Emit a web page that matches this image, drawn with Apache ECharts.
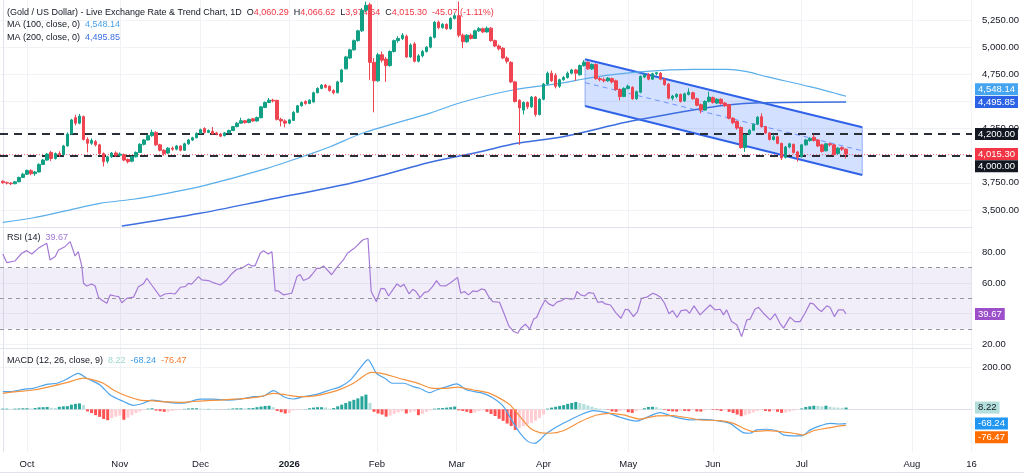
<!DOCTYPE html>
<html>
<head>
<meta charset="utf-8">
<script src="https://cdn.jsdelivr.net/npm/echarts@6/dist/echarts.min.js"></script>
<style>
html,body{margin:0;padding:0;background:#fff;}
#main{width:1024px;height:476px;}
</style>
</head>
<body>
<div id="main"></div>
<script>
// 日K [open, close, low, high]
var candles = [
  [3765,3752,3742,3772],[3752,3748,3735,3762],[3748,3742,3730,3756],[3742,3760,3738,3768],[3760,3800,3755,3808],
  [3800,3830,3795,3842],[3830,3865,3822,3872],[3862,3835,3820,3875],[3835,3850,3815,3860],[3850,3920,3845,3930],
  [3920,3960,3915,3968],[3960,4015,3955,4025],[4030,3975,3950,4045],[3975,4020,3965,4030],[4020,4010,3990,4040],
  [4010,4090,4005,4100],[4090,4200,4085,4215],[4200,4330,4195,4340],[4350,4300,4280,4378],[4300,4365,4290,4385],
  [4360,4150,4140,4370],[4150,4115,4030,4170],[4115,4140,4100,4160],[4130,4100,4085,4145],[4100,4020,4010,4110],
  [4020,3945,3900,4030],[3950,3990,3930,4000],[3990,4025,3980,4035],[4025,4005,3990,4040],[4005,4015,3995,4030],
  [4010,3960,3950,4020],[3965,3945,3930,3975],[3950,3990,3940,3998],[3990,4030,3985,4040],[4030,4105,4025,4115],
  [4105,4145,4095,4155],[4145,4185,4140,4195],[4185,4215,4175,4240],[4215,4100,4090,4225],[4100,4050,4040,4110],
  [4050,4020,4000,4060],[4025,4070,4015,4080],[4070,4060,4045,4085],[4060,4090,4050,4100],[4090,4050,4040,4095],
  [4050,4110,4045,4120],[4110,4145,4100,4155],[4145,4165,4135,4175],[4165,4205,4160,4215],[4205,4240,4200,4250],
  [4250,4215,4205,4262],[4215,4232,4208,4242],[4225,4200,4195,4265],[4210,4198,4188,4220],[4200,4180,4172,4210],
  [4185,4210,4178,4218],[4210,4232,4205,4240],[4232,4268,4228,4275],[4268,4300,4262,4310],[4300,4322,4295,4350],
  [4322,4305,4295,4330],[4305,4335,4300,4342],[4340,4320,4312,4348],[4320,4352,4315,4360],[4350,4450,4345,4458],
  [4445,4490,4438,4500],[4490,4512,4485,4532],[4512,4505,4490,4525],[4510,4335,4325,4515],[4335,4320,4270,4350],
  [4320,4300,4262,4335],[4300,4330,4290,4338],[4325,4400,4320,4410],[4400,4460,4395,4468],[4460,4490,4452,4500],
  [4500,4480,4470,4510],[4480,4512,4475,4520],[4495,4580,4490,4590],[4580,4620,4575,4630],[4620,4650,4612,4660],
  [4650,4630,4620,4662],[4640,4600,4590,4648],[4600,4580,4565,4612],[4580,4680,4575,4690],[4680,4790,4675,4800],
  [4800,4910,4795,4920],[4900,4975,4890,4985],[4975,5060,4968,5070],[5060,5150,5050,5160],[5150,5340,5140,5360],
  [5340,5385,5320,5420],[5390,4860,4700,5410],[4860,4690,4400,4900],[4690,4930,4680,4945],[4930,4880,4860,4960],
  [4890,4830,4680,4910],[4830,4960,4820,4970],[4960,5060,4950,5070],[5060,5080,5040,5100],[5080,5110,5065,5130],
  [5100,4910,4900,5115],[4910,5020,4900,5035],[5030,4870,4860,5045],[4870,4920,4860,4935],[4920,4960,4905,4975],
  [4960,5000,4950,5010],[5000,5090,4990,5100],[5090,5230,5080,5240],[5230,5180,5165,5245],[5180,5210,5170,5222],
  [5210,5170,5160,5218],[5170,5265,5160,5275],[5265,5290,5255,5310],[5290,5110,5090,5420],[5110,5050,4990,5125],
  [5050,5110,5040,5120],[5110,5080,5070,5125],[5080,5150,5075,5160],[5150,5170,5140,5185],[5170,5140,5130,5180],
  [5140,5175,5135,5190],[5175,5060,5050,5185],[5060,5010,5000,5070],[5010,4985,4970,5025],[4990,4900,4890,5000],
  [4900,4870,4850,4915],[4860,4680,4670,4870],[4680,4500,4490,4690],[4510,4440,4100,4520],[4420,4490,4380,4500],
  [4490,4450,4430,4500],[4450,4540,4440,4550],[4540,4380,4360,4550],[4380,4520,4370,4530],[4520,4660,4510,4670],
  [4660,4760,4650,4775],[4760,4690,4680,4785],[4740,4640,4620,4760],[4640,4700,4625,4710],[4700,4720,4690,4735],
  [4720,4760,4710,4775],[4760,4790,4750,4800],[4790,4760,4690,4800],[4745,4830,4740,4840],[4830,4860,4820,4880],
  [4860,4800,4790,4870],[4800,4840,4790,4850],[4840,4710,4700,4850],[4710,4700,4685,4725],[4700,4690,4675,4720],
  [4690,4715,4680,4725],[4710,4680,4665,4720],[4690,4610,4600,4700],[4610,4545,4510,4620],[4545,4620,4540,4630],
  [4620,4640,4610,4655],[4630,4525,4515,4640],[4525,4590,4515,4600],[4585,4730,4575,4740],[4725,4745,4715,4760],
  [4745,4705,4695,4762],[4705,4755,4700,4765],[4755,4765,4740,4772],[4760,4705,4695,4770],[4705,4655,4645,4715],
  [4660,4530,4520,4668],[4530,4550,4510,4560],[4545,4565,4530,4575],[4565,4500,4490,4572],[4505,4570,4495,4580],
  [4565,4585,4555,4620],[4580,4525,4515,4590],[4525,4465,4455,4535],[4470,4420,4390,4480],[4420,4500,4415,4510],
  [4500,4540,4490,4590],[4535,4490,4480,4545],[4485,4520,4475,4530],[4520,4480,4470,4528],[4485,4460,4450,4495],
  [4470,4345,4335,4478],[4345,4305,4290,4355],[4315,4255,4240,4325],[4260,4075,4065,4270],[4075,4190,4035,4200],
  [4200,4235,4190,4245],[4235,4290,4228,4300],[4290,4355,4282,4365],[4360,4268,4258,4390],[4268,4210,4200,4275],
  [4210,4150,4140,4218],[4150,4175,4140,4195],[4175,4114,4105,4185],[4114,3980,3960,4120],[3985,4080,3975,4090],
  [4080,4110,4070,4120],[4105,4030,4020,4112],[4035,3985,3945,4045],[3990,4100,3985,4108],[4100,4145,4092,4155],
  [4140,4160,4130,4170],[4170,4140,4130,4195],[4145,4090,4080,4152],[4100,4040,4030,4110],[4045,4110,4040,4118],
  [4110,4100,4085,4120],[4100,4010,4000,4108],[4020,4070,4010,4080],[4075,4060.37,4045,4085],[4060.29,4015.30,3974.64,4066.62]
];

// 均线 [bar, value]
var ma100 = [[0,3387],[7.6,3429],[15.8,3494],[24.1,3562],[32.3,3599],[40.7,3654],[48.9,3715],[65.5,3884],[76.1,4015],
  [81.1,4083],[89.3,4209],[105.9,4393],[114,4495],[126.4,4605],[138.1,4667],[146.3,4722],[158.7,4774],[171.1,4796],
  [179.5,4796],[184.4,4774],[189.3,4728],[200,4636],[209,4548.14]];
var ma200 = [[29.5,3352],[48.9,3470],[65.4,3592],[86,3745],[93.5,3815],[105.9,3940],[118.3,4037],[127.4,4114],
  [138.8,4175],[154.7,4310],[171.1,4421],[179.5,4467],[187.7,4488],[209,4495.85]];

// 下降通道
var channelX = [144.3, 213];
var channelUpper = [4888, 4262];
var channelLower = [4458, 3822];
var channelMid = [4673, 4046];
var levels = [4200, 4000];

// RSI(14)
var rsi = [[0,79],[1,73.3],[3,74.4],[4.7,79.5],[5.9,81.2],[7.2,79],[8.8,82.7],[10.1,84.9],[10.9,86],[11.3,87.1],[11.7,75.1],
  [13,77.3],[13.8,81.6],[15.4,83.8],[16.7,87.1],[17.9,77.7],[18.7,80.5],[19.6,70.7],[20,59.8],[20.8,58],[22,59.3],[22.9,58],
  [23.7,50.7],[24.5,48.9],[25.8,46.7],[26.6,52.2],[27.8,51.5],[28.7,51.1],[29.5,47.1],[30.7,49.9],[32.4,50.7],[33.6,57.6],
  [34.8,59.3],[35.7,63.1],[36.9,58.7],[39,51.1],[40.2,52.8],[41.5,53.3],[42.7,52.8],[44,57.2],[45.2,57.6],[46,59.8],
  [46.8,59.3],[48.5,64.2],[49.3,62],[51,61.6],[52.2,60.2],[53.9,58.7],[55.5,62],[56.7,65.9],[58,69],[59.2,69.6],[60.9,72.5],
  [61.7,71.2],[62.5,71.2],[63.8,79.5],[64.6,81.2],[65.8,79],[66.7,80.5],[67.5,54.8],[68.3,54.8],[69.6,52.2],[71.6,53.3],
  [72.9,64.2],[73.7,65.6],[74.5,61.6],[75.8,63.1],[76.6,65.4],[77.8,69.6],[78.6,69.6],[79.5,71.2],[81.5,65.4],[82.8,70.3],
  [84.4,75.1],[85.4,79.5],[87.1,82.7],[89.2,88.2],[89.6,89.3],[90.5,89.3],[91.3,54.4],[92.6,47.8],[93.7,56.5],[94.7,56.1],
  [95.6,51.5],[96.9,56.5],[97.7,59.4],[98.6,57.6],[99.4,59.2],[100.7,52.8],[101.6,55.9],[102.4,54.4],[103.4,50.4],
  [104.5,53.9],[105.4,54.4],[106.5,57.6],[107.5,61.6],[108.4,58.3],[109.7,58.1],[110.8,59.8],[112.7,63.7],[113.5,53.3],
  [114.4,54.4],[115.4,52.2],[116.5,54.8],[117.6,54.4],[118.6,56.1],[119.5,55.5],[120.5,50.7],[121.4,47.8],[123.1,47.4],
  [124.2,40.2],[125.4,31.9],[126.6,28.2],[127.6,27.1],[128.4,30.4],[129.5,33],[130.6,29.8],[131.6,36.5],[132.3,37.4],
  [133.3,43.5],[134.4,48.9],[135.3,46.3],[136.4,45],[137.4,47.6],[138.4,48.3],[139.5,50],[140.8,49.4],[141.7,49.8],
  [142.3,54.4],[143.2,52.2],[144.2,51.5],[145.2,53.7],[146.4,53.3],[147.5,47.2],[148.5,47.8],[149.3,46.3],[150.6,45.6],
  [151.9,40.6],[153.2,36.9],[154.3,42.8],[155.1,42.4],[156.3,38],[157.3,41.3],[158.3,50],[159.6,50.7],[161.1,53.3],
  [162.1,52.2],[163,50.7],[164,46.7],[165.1,39.8],[166,41.9],[167.1,37.4],[168.1,41.9],[169.4,42.4],[170.2,40.2],[171.3,45],
  [172.8,39.1],[175.3,45.6],[176.5,42.4],[177.8,42.8],[178.6,39.1],[179.4,42.4],[180.6,34.7],[181.9,32.6],[183.1,24.9],
  [184.4,35.8],[185.2,36.3],[186.4,42.8],[187.3,44.1],[188.5,40.2],[190.2,35.8],[191.4,39.8],[192.6,33.6],[193.5,30.4],
  [195.1,37.6],[196.3,34.7],[197.6,34.7],[198.8,40.2],[200.1,46.8],[200.9,46.3],[202.1,42.8],[202.9,41.3],[204.2,45],
  [205,44.1],[206.1,38],[207.1,42.4],[208.3,42.4],[209,39.67]];
var rsiBands = [70, 50, 30];

// MACD(12,26,9)
var macd = [[0,84],[1.8,84],[5.1,95],[7.6,100],[10.9,119],[13.4,124],[15.8,143],[18.7,171],[20.8,148],[24.1,116],[26.6,68],
  [29.9,37],[32.4,19],[34.8,29],[36.9,44],[39.8,37],[43.1,29],[45.6,32],[48.9,48],[52.2,48],[55.5,44],[58.8,48],[62.1,60],
  [64.6,63],[67.1,89],[69.6,60],[72,49],[74.5,60],[77.8,71],[81.1,92],[83.7,108],[86.2,140],[88.3,190],[90.5,237],[92.6,171],
  [94.7,148],[96.5,124],[99.4,124],[101.6,108],[103.3,100],[105.8,79],[107.5,92],[110.1,108],[112.5,121],[115,92],[119.1,76],
  [121.6,52],[124.1,13],[126.1,-51],[128.2,-114],[130.2,-154],[131.9,-162],[133.1,-146],[134.8,-114],[137.3,-83],[139.7,-59],
  [143.1,-27],[146.3,-6],[149.7,-16],[153,-38],[157.1,-56],[159.6,-38],[162.9,-16],[166.2,-35],[167.8,-43],[170.7,-51],
  [172.8,-48],[176.9,-54],[180.2,-67],[181.9,-90],[183.5,-111],[185.2,-114],[186.8,-98],[189.3,-95],[191.8,-102],
  [193.5,-122],[195.9,-127],[198,-127],[200.1,-98],[202.5,-79],[205,-67],[207.1,-70],[209,-68.24]];
var signal = [[0,76],[3.4,84],[7.6,92],[11.7,108],[15.8,127],[20,148],[22.4,140],[24.9,124],[27.4,92],[30.7,63],[34,44],
  [37.3,40],[40.6,35],[44,33],[47.2,37],[50.5,41],[53.9,44],[57.2,48],[60.5,52],[63.8,60],[67.1,76],[70.4,68],[73.7,60],
  [77,63],[80.3,76],[83.6,95],[86.9,124],[90.2,168],[91.3,176],[93.9,171],[98.2,148],[102.4,127],[106.7,100],[110.1,100],
  [112.7,106],[116.6,92],[120.7,76],[123.2,52],[125.7,21],[128.2,-35],[130.7,-90],[133.1,-111],[135.6,-114],[138.9,-102],
  [143.1,-59],[147.2,-27],[150.5,-19],[153.8,-27],[157.9,-47],[162.1,-31],[166.2,-30],[167.8,-35],[170.7,-43],[172.8,-51],
  [177.8,-54],[181.1,-67],[183.5,-90],[186,-106],[189.3,-102],[192.6,-106],[195.9,-114],[198.4,-122],[200.9,-102],
  [204.2,-90],[207.5,-79],[209,-76.47]];
var hist = [
  3,3,2,3,4,5,5,4,6,9, 10,11,7,6,12,14,15,22,26,28,
  20,-10,-18,-28,-36,-46,-52,-42,-35,-30, -50,-40,-28,-18,-10,-3,3,5,-6,-9,
  -12,-11,-8,-5,-3,2,4,5,5,3, 2,2,1,1,-1,1,2,4,5,5,
  4,5,6,10,13,16,17,10,-8,-14, -20,-18,-5,-3,-2,1,5,8,10,10,
  8,3,6,14,22,30,38,45,52,62, 70,30,-12,-20,-25,-35,-30,-22,-15,-10,
  -20,-15,-10,-28,-22,-12,-5,3,5,6, 8,10,13,-5,-8,-12,-18,-15,-8,-5,
  -12,-22,-32,-45,-55,-68,-80,-98,-90,-80, -72,-65,-55,-42,-25,3,8,12,16,20,
  26,30,35,30,25,18,12,6,3,2, -2,-10,-12,-8,-3,-14,-17,-8,-3,5,
  11,12,10,3,-3,-8,-10,-11,-6,-8, -9,-4,-10,-11,-5,-2,-3,-4,-8,-5,
  -12,-18,-25,-33,-28,-22,-15,-8,-4,-8, -10,-6,-12,-17,-15,-10,-6,-2,4,11,
  14,17,16,14,17,12,9,8,7,8.22
];

// 时间轴
var monthTicks = [6, 29, 49, 71, 92.7, 112.5, 134, 155, 176, 198, 225.3, 240.1];
var monthNames = ['Oct', 'Nov', 'Dec', '2026', 'Feb', 'Mar', 'Apr', 'May', 'Jun', 'Jul', 'Aug', '16'];
var priceGrid = [3500, 3750, 4000, 4250, 4500, 4750, 5000, 5250];
var priceLabels = [3500, 3750, 4250, 4750, 5000, 5250];
var rsiLabels = [20, 60, 80];
var macdLabels = [200];

var FONT = '"Liberation Sans", Arial, sans-serif';
var TXT = '#131722';
var GRID_C = '#f0f2f6';
var SEP_C = '#e0e3eb';

var myChart = echarts.init(document.getElementById('main'));

function fmt2(v) {
  return Number(v).toLocaleString('en-US', {minimumFractionDigits: 2, maximumFractionDigits: 2});
}

var candleData = candles.map(function (d, i) { return [i, d[0], d[1], d[2], d[3]]; });
var histData = hist.map(function (v, i) { return [i, v]; });

var xMin = -0.694, xMax = 240.2;
function xAxisOf(k, showLabel) {
  return {
    type: 'value', gridIndex: k, min: xMin, max: xMax,
    axisLine: {show: true, lineStyle: {color: SEP_C, width: 1}},
    axisTick: {show: false, customValues: monthTicks},
    splitLine: {show: true, lineStyle: {color: GRID_C, width: 1}},
    axisLabel: {
      show: showLabel, customValues: monthTicks, margin: 7,
      color: TXT, fontSize: 9.5, fontFamily: FONT,
      formatter: function (v) {
        var best = 0;
        for (var j = 1; j < monthTicks.length; j++) {
          if (Math.abs(monthTicks[j] - v) < Math.abs(monthTicks[best] - v)) best = j;
        }
        return monthNames[best] === '2026' ? '{b|2026}' : monthNames[best];
      },
      rich: {b: {fontWeight: 'bold', fontSize: 9.5, color: TXT, fontFamily: FONT}}
    }
  };
}
function yAxisOf(k, min, max, grid, labels) {
  return {
    type: 'value', gridIndex: k, position: 'right', min: min, max: max,
    axisLine: {show: true, lineStyle: {color: SEP_C}},
    axisTick: {show: false, customValues: grid},
    splitLine: {show: true, lineStyle: {color: GRID_C}},
    axisLabel: {customValues: labels, margin: 10, color: TXT, fontSize: 9.5, fontFamily: FONT, formatter: fmt2}
  };
}

var option = {
  animation: false,
  backgroundColor: '#ffffff',
  grid: [
    {left: 0, right: 52, top: 0, height: 227, outerBoundsMode: 'none'},
    {left: 0, right: 52, top: 227, height: 121, outerBoundsMode: 'none'},
    {left: 0, right: 52, top: 348, height: 104, outerBoundsMode: 'none'}
  ],
  xAxis: [xAxisOf(0, false), xAxisOf(1, false), xAxisOf(2, true)],
  yAxis: [
    yAxisOf(0, 3343.6, 5434.2, priceGrid, priceLabels),
    yAxisOf(1, 17.4, 96.7, [20, 40, 60, 80], rsiLabels),
    yAxisOf(2, -203.4, 291.9, [200], macdLabels)
  ],
  series: [
    {
      type: 'custom', xAxisIndex: 0, yAxisIndex: 0, silent: true, z: 1,
      data: [[channelX[0], channelUpper[0]]],
      renderItem: function (params, api) {
        var ul = api.coord([channelX[0], channelUpper[0]]), ur = api.coord([channelX[1], channelUpper[1]]);
        var ll = api.coord([channelX[0], channelLower[0]]), lr = api.coord([channelX[1], channelLower[1]]);
        var ml = api.coord([channelX[0], channelMid[0]]), mr = api.coord([channelX[1], channelMid[1]]);
        var blue = '#2f62e8';
        return {type: 'group', children: [
          {type: 'polygon', shape: {points: [ul, ur, lr, ll]}, style: {fill: 'rgba(41,98,255,0.2)'}},
          {type: 'line', shape: {x1: ul[0], y1: ul[1], x2: ll[0], y2: ll[1]}, style: {stroke: 'rgba(41,98,255,0.45)', lineWidth: 1}},
          {type: 'line', shape: {x1: ur[0], y1: ur[1], x2: lr[0], y2: lr[1]}, style: {stroke: 'rgba(41,98,255,0.45)', lineWidth: 1}},
          {type: 'line', shape: {x1: ml[0], y1: ml[1], x2: mr[0], y2: mr[1]}, style: {stroke: 'rgba(41,98,255,0.6)', lineWidth: 1, lineDash: [5, 4]}},
          {type: 'line', shape: {x1: ul[0], y1: ul[1], x2: ur[0], y2: ur[1]}, style: {stroke: blue, lineWidth: 2}},
          {type: 'line', shape: {x1: ll[0], y1: ll[1], x2: lr[0], y2: lr[1]}, style: {stroke: blue, lineWidth: 2}}
        ]};
      }
    },
    {
      name: 'MA100', type: 'line', xAxisIndex: 0, yAxisIndex: 0, data: ma100, symbol: 'none', smooth: 0.3, z: 3,
      lineStyle: {color: '#5aaeea', width: 1.2}
    },
    {
      name: 'MA200', type: 'line', xAxisIndex: 0, yAxisIndex: 0, data: ma200, symbol: 'none', smooth: 0.3, z: 3,
      lineStyle: {color: '#3d6ee0', width: 1.5}
    },
    {
      name: 'XAUUSD', type: 'candlestick', xAxisIndex: 0, yAxisIndex: 0, data: candleData, z: 5,
      encode: {x: 0, y: [1, 2, 3, 4]},
      barWidth: 3,
      itemStyle: {color: '#12a085', color0: '#ef4452', borderColor: '#12a085', borderColor0: '#ef4452', borderWidth: 1},
      markLine: {
        silent: true, symbol: 'none', label: {show: false},
        data: [
          {yAxis: levels[0], lineStyle: {color: '#2a2e39', type: [8, 6], width: 2}},
          {yAxis: levels[1], lineStyle: {color: '#2a2e39', type: [8, 6], width: 2}},
          {yAxis: candles[candles.length - 1][1], lineStyle: {color: '#f23645', type: [1, 2], width: 1, opacity: 0.7}}
        ]
      }
    },
    {
      name: 'RSI', type: 'line', xAxisIndex: 1, yAxisIndex: 1, data: rsi, symbol: 'none', z: 4,
      lineStyle: {color: '#a47ad6', width: 1.2},
      markArea: {silent: true, itemStyle: {color: 'rgba(126,87,194,0.1)'}, data: [[{yAxis: rsiBands[0]}, {yAxis: rsiBands[2]}]]},
      markLine: {
        silent: true, symbol: 'none', label: {show: false},
        lineStyle: {color: '#9598a1', type: [4, 4], width: 1},
        data: rsiBands.map(function (v) { return {yAxis: v}; })
      }
    },
    {
      name: 'Histogram', type: 'bar', xAxisIndex: 2, yAxisIndex: 2, data: histData, barWidth: 3, z: 2,
      itemStyle: {
        color: function (p) {
          var i = p.dataIndex, v = hist[i], prev = i > 0 ? hist[i - 1] : v;
          if (v >= 0) return v >= prev ? '#26a69a' : '#b2dfdb';
          return v <= prev ? '#ff5252' : '#ffcdd2';
        }
      }
    },
    {
      name: 'MACD', type: 'line', xAxisIndex: 2, yAxisIndex: 2, data: macd, symbol: 'none', smooth: 0.25, z: 4,
      lineStyle: {color: '#4ea4ec', width: 1.2}
    },
    {
      name: 'Signal', type: 'line', xAxisIndex: 2, yAxisIndex: 2, data: signal, symbol: 'none', smooth: 0.25, z: 4,
      lineStyle: {color: '#f5923e', width: 1.2}
    }
  ]
};
myChart.setOption(option);

// 图例文字与右侧价格标签
var last = candles[candles.length - 1];
var prevClose = candles[candles.length - 2][1];
var chg = last[1] - prevClose;
var chgText = (chg >= 0 ? '+' : '') + chg.toFixed(2) + ' (' + (chg / prevClose * 100).toFixed(2) + '%)';
var ma100Last = ma100[ma100.length - 1][1], ma200Last = ma200[ma200.length - 1][1];
var rsiLast = rsi[rsi.length - 1][1];
var macdLast = macd[macd.length - 1][1], signalLast = signal[signal.length - 1][1], histLast = hist[hist.length - 1];

function rich(c) { return {fill: c, fontSize: 9, fontFamily: FONT}; }
var richSet = {
  t: rich(TXT), r: rich('#f23645'), a: rich('#4aa3ea'), b: rich('#3d6ee0'),
  p: rich('#a47ad6'), g: rich('#9fd6cf'), m: rich('#3b9ae8'), o: rich('#f57c2a')
};
function legend(x, y, text) {
  return {type: 'text', x: x, y: y, z: 1, silent: true, style: {text: text, verticalAlign: 'middle', rich: richSet, fontSize: 9, fontFamily: FONT}};
}

var graphics = [
  legend(7, 13, '{t|(Gold / US Dollar) - Live Exchange Rate & Trend Chart, 1D}  {t|O}{r|' + fmt2(last[0]) + '}  {t|H}{r|' +
    fmt2(last[3]) + '}  {t|L}{r|' + fmt2(last[2]) + '}  {t|C}{r|' + fmt2(last[1]) + '}  {r|' + chgText + '}'),
  legend(7, 25, '{t|MA (100, close, 0)}  {a|' + fmt2(ma100Last) + '}'),
  legend(7, 38, '{t|MA (200, close, 0)}  {b|' + fmt2(ma200Last) + '}'),
  legend(7, 238, '{t|RSI (14)}  {p|' + rsiLast.toFixed(2) + '}'),
  legend(7, 361, '{t|MACD (12, 26, close, 9)}  {g|' + histLast.toFixed(2) + '}  {m|' + macdLast.toFixed(2) + '}  {o|' + signalLast.toFixed(2) + '}')
];

var tags = [
  {axis: 0, value: ma100Last, bg: '#45a4f0', fg: '#ffffff', dy: -7},
  {axis: 0, value: ma200Last, bg: '#2b62e6', fg: '#ffffff', dy: 0},
  {axis: 0, value: levels[0], bg: '#131722', fg: '#ffffff', dy: 0},
  {axis: 0, value: last[1], bg: '#f23645', fg: '#ffffff', dy: 0},
  {axis: 0, value: levels[1], bg: '#131722', fg: '#ffffff', dy: 10.5},
  {axis: 1, value: rsiLast, bg: '#9c4fc9', fg: '#ffffff', dy: 0},
  {axis: 2, value: histLast, bg: '#b2dfdb', fg: '#131722', dy: 0},
  {axis: 2, value: macdLast, bg: '#2196f3', fg: '#ffffff', dy: 0},
  {axis: 2, value: signalLast, bg: '#ff6d00', fg: '#ffffff', dy: 12}
];
tags.forEach(function (t) {
  var y = myChart.convertToPixel({yAxisIndex: t.axis}, t.value) + t.dy;
  graphics.push({
    type: 'text', x: 975, y: y, z: 50, silent: true,
    style: {
      text: fmt2(t.value), verticalAlign: 'middle', fill: t.fg, fontSize: 9.5, fontFamily: FONT,
      backgroundColor: t.bg, padding: [1, 3, 1, 3], lineHeight: 10
    }
  });
});
graphics.push({type: 'line', z: 0, silent: true, shape: {x1: 0, y1: 472.5, x2: 1024, y2: 472.5}, style: {stroke: SEP_C, lineWidth: 1}});

myChart.setOption({graphic: graphics});

window.addEventListener('resize', function () { myChart.resize(); });
</script>
</body>
</html>
